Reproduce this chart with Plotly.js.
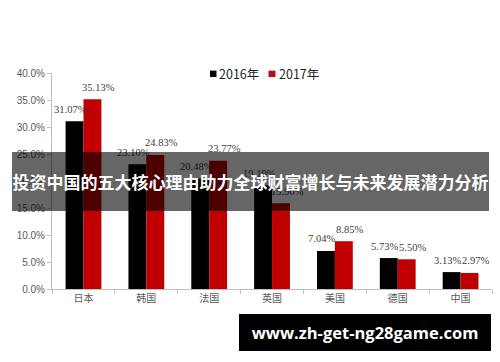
<!DOCTYPE html>
<html>
<head>
<meta charset="utf-8">
<script src="https://cdn.plot.ly/plotly-3.0.1.min.js"></script>
<style>
html,body{margin:0;padding:0;background:#fff;}
#chart{width:500px;height:362px;}
</style>
</head>
<body>
<div id="chart"></div>
<script>
var categories = ["日本", "韩国", "法国", "英国", "美国", "德国", "中国"];
var values2016 = [31.07, 23.10, 20.48, 19.19, 7.04, 5.73, 3.13];
var values2017 = [35.13, 24.83, 23.77, 15.90, 8.85, 5.50, 2.97];
var seriesNames = ["2016年", "2017年"];
var bannerText = "投资中国的五大核心理由助力全球财富增长与未来发展潜力分析";
var watermarkText = "www.zh-get-ng28game.com";

var labelFont = {family: "Liberation Serif, Times New Roman, serif", size: 10.5, color: "#404040"};

var traces = [
  {type: "bar", name: seriesNames[0], x: categories, y: values2016,
   marker: {color: "#000000"}, hoverinfo: "x+y"},
  {type: "bar", name: seriesNames[1], x: categories, y: values2017,
   marker: {color: "#c00000"}, hoverinfo: "x+y"}
];

// plot area: x 52..492, y 72.7..289.5
var L = 52, R = 492, T = 72.7, B = 289.5;
function px(x){ return (x - L) / (R - L); }
function py(y){ return (B - y) / (B - T); }

function labelAnns(vals, shift){
  return vals.map(function(v, i){
    return {xref: "x", yref: "y", x: categories[i], y: v,
            text: v.toFixed(2) + "%", showarrow: false,
            xanchor: "center", yanchor: "middle", xshift: shift, yshift: 12,
            font: labelFont};
  });
}

var annotations = [].concat(
  labelAnns(values2016, -13),
  labelAnns(values2017, 15),
  [
    {xref: "paper", yref: "paper", x: px(217), y: py(73.5), xanchor: "left", yanchor: "middle",
     text: seriesNames[0], showarrow: false,
     font: {family: "Noto Sans CJK SC, sans-serif", size: 12.5, color: "#262626"}},
    {xref: "paper", yref: "paper", x: px(276.5), y: py(73.5), xanchor: "left", yanchor: "middle",
     text: seriesNames[1], showarrow: false,
     font: {family: "Noto Sans CJK SC, sans-serif", size: 12.5, color: "#262626"}},
    {xref: "paper", yref: "paper", x: px(250.5), y: py(181.5), xanchor: "center", yanchor: "middle",
     text: "<b>" + bannerText + "</b>", showarrow: false,
     width: 477, height: 59, bgcolor: "rgba(0,0,0,0.6)", borderpad: 0, borderwidth: 0,
     font: {family: "Noto Sans CJK SC, sans-serif", size: 17, color: "#ffffff"}},
    {xref: "paper", yref: "paper", x: px(365), y: py(333.5), xanchor: "center", yanchor: "middle",
     text: "<b>" + watermarkText + "</b>", showarrow: false,
     width: 252, height: 37, bgcolor: "#000000", borderpad: 0, borderwidth: 0,
     font: {family: "Open Sans, sans-serif", size: 16.5, color: "#ffffff"}}
  ]
);

var layout = {
  width: 500, height: 362,
  margin: {l: L, r: 500 - R, t: T, b: 362 - B, pad: 0},
  paper_bgcolor: "#ffffff", plot_bgcolor: "#ffffff",
  showlegend: false,
  barmode: "group", bargap: 0.43, bargroupgap: 0,
  font: {family: "Liberation Sans, Arial, sans-serif", color: "#595959"},
  xaxis: {
    type: "category", showline: true, linecolor: "#bfbfbf", linewidth: 1,
    ticks: "outside", tickson: "boundaries", ticklen: 4, tickcolor: "#bfbfbf",
    tickfont: {family: "Noto Sans CJK SC, sans-serif", size: 10, color: "#595959"},
    showgrid: false, zeroline: false, fixedrange: true
  },
  yaxis: {
    range: [0, 40], dtick: 5, tickformat: ".1f", ticksuffix: "%",
    showline: true, linecolor: "#bfbfbf", linewidth: 1,
    ticks: "outside", ticklen: 4, tickcolor: "#bfbfbf",
    tickfont: {family: "Liberation Sans, Arial, sans-serif", size: 10, color: "#595959"},
    showgrid: false, zeroline: false, fixedrange: true
  },
  shapes: [
    {type: "rect", xref: "paper", yref: "paper", x0: px(210), x1: px(216.5), y0: py(76.8), y1: py(70.3),
     fillcolor: "#000000", line: {width: 0}},
    {type: "rect", xref: "paper", yref: "paper", x0: px(268.5), x1: px(275.5), y0: py(76.8), y1: py(70.3),
     fillcolor: "#b01018", line: {width: 0}}
  ],
  annotations: annotations
};

Plotly.newPlot("chart", traces, layout, {displayModeBar: false, staticPlot: true});
</script>
</body>
</html>
